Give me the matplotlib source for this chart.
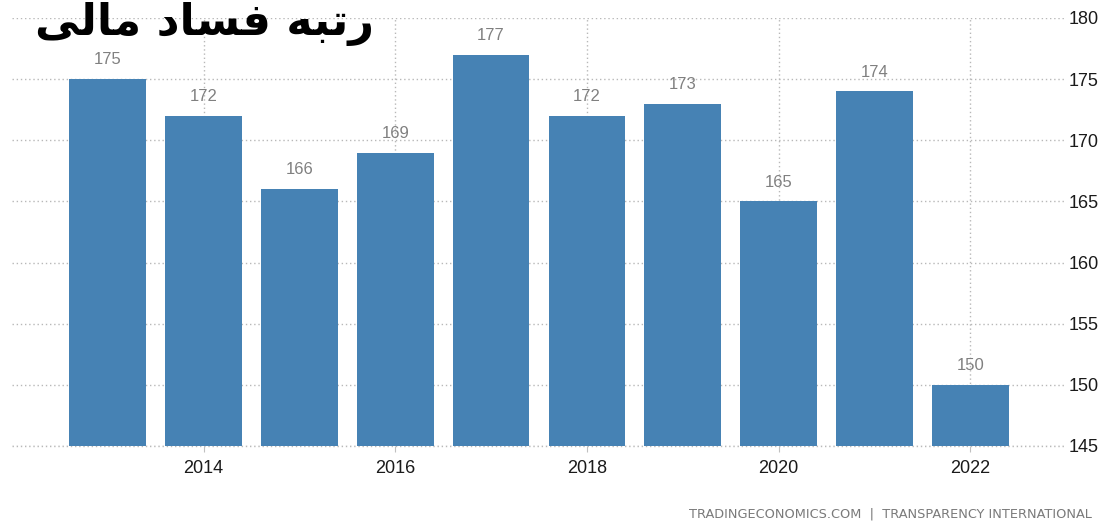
import matplotlib
matplotlib.use("Agg")
import matplotlib.pyplot as plt

years = [2013, 2014, 2015, 2016, 2017, 2018, 2019, 2020, 2021, 2022]
ranks = [175, 172, 166, 169, 177, 172, 173, 165, 174, 150]
xtick_years = [2014, 2016, 2018, 2020, 2022]
ytick_vals = [145, 150, 155, 160, 165, 170, 175, 180]
title_logical = "رتبه فساد مالی"
# visual-order presentation forms of the title (matplotlib does not shape Arabic)
title_visual = "\uFEF0\uFEDF\uFE8E\uFEE3 \uFEA9\uFE8E\uFEB4\uFED3 \uFEEA\uFE92\uFE97\uFEAD"
source = "TRADINGECONOMICS.COM  |  TRANSPARENCY INTERNATIONAL"

W, H = 1099, 523
fig = plt.figure(figsize=(W / 100, H / 100), dpi=100)
ax = fig.add_axes([12 / W, (H - 446) / H, (1066 - 12) / W, (446 - 18) / H])

bar_color = "#4682B4"
ax.bar(years, [r - 145 for r in ranks], bottom=145, width=0.8, color=bar_color, zorder=3)

for x, v in zip(years, ranks):
    ax.annotate(str(v), (x, v), xytext=(0, 8.5), textcoords="offset points",
                ha="center", va="bottom", fontsize=12, color="#808080",
                family="Liberation Sans")

ax.set_xlim(2012, 2023)
ax.set_ylim(145, 180)
ax.set_xticks(xtick_years)
ax.set_xticklabels([str(y) for y in xtick_years], fontsize=13, color="#1a1a1a",
                   family="Liberation Sans")
ax.set_yticks(ytick_vals)
ax.set_yticklabels([str(v) for v in ytick_vals], fontsize=13, color="#1a1a1a",
                   family="Liberation Sans")
ax.yaxis.tick_right()
ax.tick_params(axis="y", length=0, pad=2)
ax.tick_params(axis="x", length=4, color="#c0c0c0", pad=6)

for s in ax.spines.values():
    s.set_visible(False)
grid_style = dict(linestyle=(0, (1, 2)), color="#b8b8b8", linewidth=1)
ax.grid(True, axis="both", zorder=0, **grid_style)
ax.axhline(145, clip_on=False, zorder=0, **grid_style)
ax.set_axisbelow(True)

fig.text(35 / W, 1 - 35 / H, title_visual, fontsize=32, fontweight="bold",
         family=["DejaVu Sans"], color="black", ha="left", va="baseline")
fig.text(1092 / W, 1 - 514 / H, source, fontsize=9.3, color="#7a7a7a",
         family="DejaVu Sans", ha="right", va="center")

fig.savefig("out.png", dpi=100)
